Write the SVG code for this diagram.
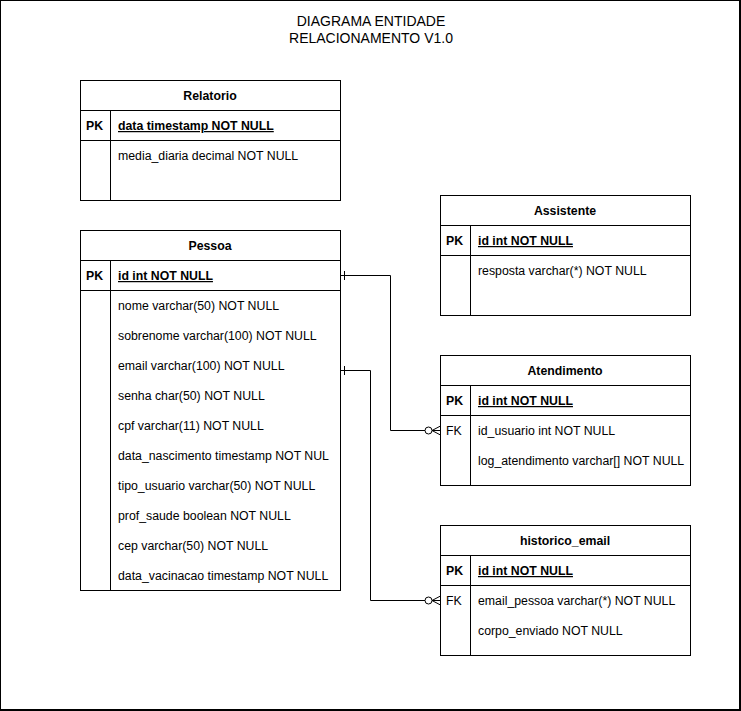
<svg xmlns="http://www.w3.org/2000/svg" width="741" height="711" viewBox="0 0 741 711">
<style>
text{font-family:"Liberation Sans",Arial,sans-serif;font-size:12.3px;fill:#000}
.t{text-anchor:middle}
.h{font-weight:bold;text-anchor:middle}
.pk{font-weight:bold}
.pkf{font-weight:bold;text-decoration:underline}
.box{fill:#fff;stroke:#000;stroke-width:1}
.ln{stroke:#000;stroke-width:1;fill:none}
.title{font-size:14px;text-anchor:middle}
</style>
<rect x="0" y="0" width="740" height="710" fill="#fff" stroke="#000" stroke-width="2"/>
<text class="title" x="371" y="26">DIAGRAMA ENTIDADE</text>
<text class="title" x="371" y="43">RELACIONAMENTO V1.0</text>

<g id="relatorio">
<rect class="box" x="80.5" y="80.5" width="260" height="120"/>
<path class="ln" d="M80.5 110.5H340.5M80.5 140.5H340.5M110.5 110.5V200.5"/>
<text class="h" x="210" y="100">Relatorio</text>
<text class="pk" x="86" y="130">PK</text>
<text class="pkf" x="118" y="130">data timestamp NOT NULL</text>
<text x="118" y="160">media_diaria decimal NOT NULL</text>
</g>

<g id="pessoa">
<rect class="box" x="80.5" y="230.5" width="260" height="360"/>
<path class="ln" d="M80.5 260.5H340.5M80.5 290.5H340.5M110.5 260.5V590.5"/>
<text class="h" x="210" y="250">Pessoa</text>
<text class="pk" x="86" y="280">PK</text>
<text class="pkf" x="118" y="280">id int NOT NULL</text>
<text x="118" y="310">nome varchar(50) NOT NULL</text>
<text x="118" y="340">sobrenome varchar(100) NOT NULL</text>
<text x="118" y="370">email varchar(100) NOT NULL</text>
<text x="118" y="400">senha char(50) NOT NULL</text>
<text x="118" y="430">cpf varchar(11) NOT NULL</text>
<text x="118" y="460">data_nascimento timestamp NOT NUL</text>
<text x="118" y="490">tipo_usuario varchar(50) NOT NULL</text>
<text x="118" y="520">prof_saude boolean NOT NULL</text>
<text x="118" y="550">cep varchar(50) NOT NULL</text>
<text x="118" y="580">data_vacinacao timestamp NOT NULL</text>
</g>

<g id="assistente">
<rect class="box" x="440.5" y="195.5" width="250" height="120"/>
<path class="ln" d="M440.5 225.5H690.5M440.5 255.5H690.5M470.5 225.5V315.5"/>
<text class="h" x="565" y="215">Assistente</text>
<text class="pk" x="446" y="245">PK</text>
<text class="pkf" x="478" y="245">id int NOT NULL</text>
<text x="478" y="275">resposta varchar(*) NOT NULL</text>
</g>

<g id="atendimento">
<rect class="box" x="440.5" y="355.5" width="250" height="130"/>
<path class="ln" d="M440.5 385.5H690.5M440.5 415.5H690.5M470.5 385.5V485.5"/>
<text class="h" x="565" y="375">Atendimento</text>
<text class="pk" x="446" y="405">PK</text>
<text class="pkf" x="478" y="405">id int NOT NULL</text>
<text x="446" y="435">FK</text>
<text x="478" y="435">id_usuario int NOT NULL</text>
<text x="478" y="465">log_atendimento varchar[] NOT NULL</text>
</g>

<g id="historico_email">
<rect class="box" x="440.5" y="525.5" width="250" height="130"/>
<path class="ln" d="M440.5 555.5H690.5M440.5 585.5H690.5M470.5 555.5V655.5"/>
<text class="h" x="565" y="545">historico_email</text>
<text class="pk" x="446" y="575">PK</text>
<text class="pkf" x="478" y="575">id int NOT NULL</text>
<text x="446" y="605">FK</text>
<text x="478" y="605">email_pessoa varchar(*) NOT NULL</text>
<text x="478" y="635">corpo_enviado NOT NULL</text>
</g>

<g id="connectors">
<path class="ln" d="M340.5 275.5H390.5V430.5H425"/>
<path class="ln" d="M344.5 271V280"/>
<circle class="ln" cx="428.5" cy="430.5" r="3.5" fill="#fff"/>
<path class="ln" d="M432 430.5H440.5M432 430.5L440.5 426M432 430.5L440.5 435"/>
<path class="ln" d="M340.5 370.5H370.5V600.5H425"/>
<path class="ln" d="M344.5 366V375"/>
<circle class="ln" cx="428.5" cy="600.5" r="3.5" fill="#fff"/>
<path class="ln" d="M432 600.5H440.5M432 600.5L440.5 596M432 600.5L440.5 605"/>
</g>
</svg>
